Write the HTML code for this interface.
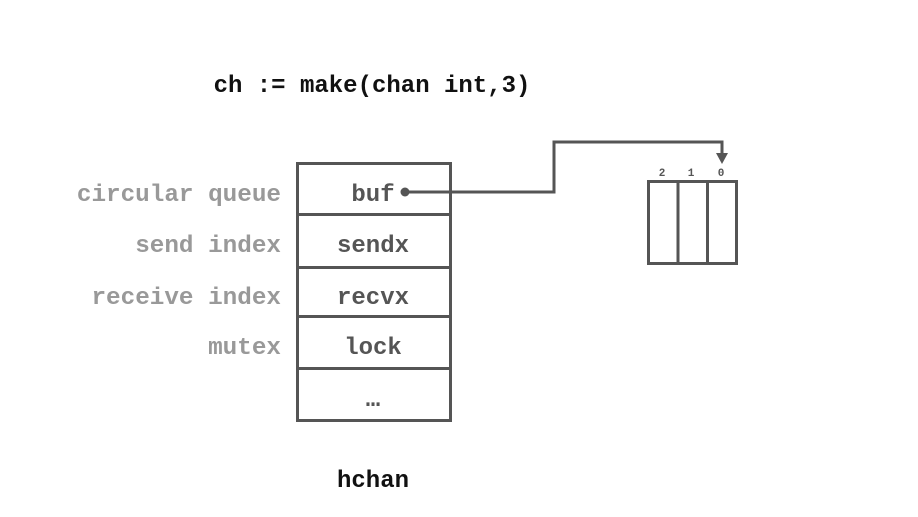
<!DOCTYPE html>
<html><head><meta charset="utf-8"><style>
html,body{margin:0;padding:0;background:#fff;}
svg{display:block;}
text{font-family:"Liberation Mono",monospace;font-weight:bold;}
</style></head><body>
<svg width="918" height="517" viewBox="0 0 918 517" xmlns="http://www.w3.org/2000/svg">
<rect width="918" height="517" fill="#fff"/>
<text x="372" y="92" font-size="24" fill="#111" text-anchor="middle">ch := make(chan int,3)</text>
<g font-size="24.3" fill="#999" text-anchor="end">
<text x="281" y="201">circular queue</text>
<text x="281" y="252">send index</text>
<text x="281" y="304">receive index</text>
<text x="281" y="354">mutex</text>
</g>
<g fill="none" stroke="#555" stroke-width="3">
<rect x="297.5" y="163.5" width="153" height="257"/>
<line x1="297" y1="214.5" x2="451" y2="214.5"/>
<line x1="297" y1="267.5" x2="451" y2="267.5"/>
<line x1="297" y1="316.5" x2="451" y2="316.5"/>
<line x1="297" y1="368.5" x2="451" y2="368.5"/>
<rect x="648.5" y="181.5" width="88" height="82"/>
<line x1="678" y1="181" x2="678" y2="264"/>
<line x1="707.5" y1="181" x2="707.5" y2="264"/>
<polyline points="405,192 554,192 554,142 722,142 722,155"/>
</g>
<circle cx="405" cy="192" r="4.5" fill="#555"/>
<polygon points="716,153 728,153 722,164" fill="#555"/>
<g font-size="24" fill="#555" text-anchor="middle">
<text x="373" y="201">buf</text>
<text x="373" y="252">sendx</text>
<text x="373" y="304">recvx</text>
<text x="373" y="354">lock</text>
<text x="373" y="406">…</text>
</g>
<g font-size="11" fill="#555" text-anchor="middle" font-weight="normal">
<text x="662" y="176">2</text>
<text x="691" y="176">1</text>
<text x="721" y="176">0</text>
</g>
<text x="373" y="487" font-size="24" fill="#111" text-anchor="middle">hchan</text>
</svg>
</body></html>
